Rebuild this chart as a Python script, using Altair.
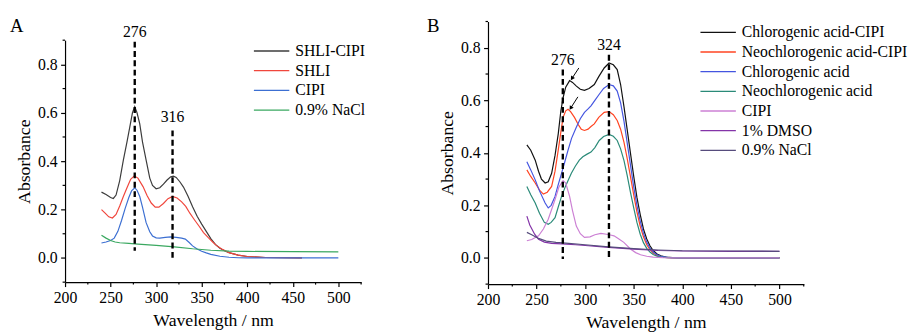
import altair as alt
import pandas as pd

FONT = "Liberation Serif"

# ---------------- Panel A data ----------------
a_names = ["SHLI-CIPI", "SHLI", "CIPI", "0.9% NaCl"]
a_colors = ["#3c3c3c", "#f0463c", "#3c6fd2", "#3aa860"]

a_shli_cipi_nm = [240, 245, 250, 253, 256, 260, 264, 268, 271, 274, 276.5, 279, 282, 285, 289, 293, 296, 300, 304, 308, 312, 316, 319, 322, 326, 330, 335, 340, 345, 350, 355, 360, 365, 370, 375, 380, 390, 400, 420, 440, 460]
a_shli_cipi_v = [0.272, 0.262, 0.250, 0.246, 0.260, 0.320, 0.404, 0.480, 0.540, 0.600, 0.625, 0.600, 0.554, 0.480, 0.404, 0.330, 0.300, 0.286, 0.290, 0.305, 0.322, 0.335, 0.338, 0.333, 0.315, 0.293, 0.255, 0.212, 0.172, 0.140, 0.110, 0.080, 0.056, 0.040, 0.030, 0.022, 0.012, 0.006, 0.002, 0.001, 0.000]

a_shli_nm = [240, 244, 248, 252, 256, 260, 264, 268, 272, 276, 280, 285.6, 290, 294.6, 299, 303, 308, 313, 318, 323, 328, 332.5, 337, 342, 347, 352, 357, 361.5, 366, 372, 380, 390, 400, 420, 440, 460]
a_shli_v = [0.200, 0.185, 0.170, 0.165, 0.180, 0.215, 0.254, 0.290, 0.325, 0.339, 0.330, 0.295, 0.258, 0.227, 0.210, 0.210, 0.225, 0.245, 0.254, 0.248, 0.232, 0.213, 0.185, 0.158, 0.132, 0.105, 0.085, 0.068, 0.052, 0.037, 0.022, 0.012, 0.006, 0.002, 0.001, 0.000]

a_cipi_nm = [240, 245, 250, 254, 258, 262, 266, 270, 273, 276.5, 279, 282, 285, 289, 293, 296, 300, 304, 310, 316, 322, 328, 332, 336, 340, 345, 350, 355, 360, 370, 380, 390, 400, 450, 500]
a_cipi_v = [0.062, 0.066, 0.072, 0.082, 0.110, 0.155, 0.205, 0.250, 0.277, 0.290, 0.280, 0.254, 0.210, 0.146, 0.108, 0.091, 0.083, 0.082, 0.085, 0.087, 0.085, 0.082, 0.078, 0.065, 0.050, 0.037, 0.028, 0.021, 0.015, 0.007, 0.003, 0.001, 0.000, 0.000, 0.000]

a_nacl_nm = [240, 245, 250, 255, 260, 270, 280, 300, 320, 340, 360, 380, 400, 450, 500]
a_nacl_v = [0.094, 0.082, 0.072, 0.066, 0.063, 0.060, 0.057, 0.052, 0.046, 0.038, 0.032, 0.028, 0.027, 0.026, 0.025]

a_peak_nm = [276.5, 318]
a_peak_text = ["276", "316"]
a_peak_label_y = [0.914, 0.56]
a_peak_top = [0.894, 0.527]
a_peak_bottom = [0.03, -0.012]

# ---------------- Panel B data ----------------
b_names = ["Chlorogenic acid-CIPI", "Neochlorogenic acid-CIPI", "Chlorogenic acid",
           "Neochlorogenic acid", "CIPI", "1% DMSO", "0.9% NaCl"]
b_colors = ["#111111", "#ff4422", "#4455e0", "#2a8a78", "#cc80d4", "#8434a8", "#564c7c"]

b_cga_cipi_nm = [240, 244, 248.6, 252, 255, 258.8, 262, 265.5, 269, 272.3, 275, 277.3, 280, 284, 287, 291, 295, 299.3, 304, 309.4, 314, 319.6, 324.6, 329, 333, 336.5, 340, 343.2, 346.6, 350, 353.3, 356.7, 360, 363.4, 366.7, 370, 374, 378, 383, 390, 400, 450, 500]
b_cga_cipi_v = [0.430, 0.410, 0.372, 0.330, 0.300, 0.285, 0.290, 0.322, 0.390, 0.472, 0.560, 0.610, 0.650, 0.675, 0.668, 0.654, 0.642, 0.638, 0.645, 0.660, 0.690, 0.723, 0.742, 0.735, 0.717, 0.660, 0.575, 0.490, 0.400, 0.310, 0.230, 0.165, 0.110, 0.072, 0.046, 0.028, 0.015, 0.008, 0.003, 0.001, 0.000, 0.000, 0.000]

b_ncga_cipi_nm = [240, 244, 248.6, 253, 257, 261, 265.5, 269, 272.3, 275, 277.3, 280, 282.4, 285, 289, 293, 296, 299.3, 303, 306, 309.4, 314, 319.6, 324.6, 329, 333, 336.5, 340, 343.2, 346.6, 350, 353.3, 356.7, 360, 363.4, 366.7, 370, 374, 378, 385, 395, 450, 500]
b_ncga_cipi_v = [0.335, 0.310, 0.285, 0.258, 0.243, 0.250, 0.272, 0.330, 0.410, 0.480, 0.535, 0.560, 0.566, 0.557, 0.535, 0.507, 0.490, 0.485, 0.490, 0.500, 0.510, 0.535, 0.554, 0.557, 0.545, 0.523, 0.490, 0.440, 0.380, 0.310, 0.240, 0.175, 0.120, 0.080, 0.050, 0.031, 0.018, 0.009, 0.004, 0.001, 0.000, 0.000, 0.000]

b_cga_nm = [240, 244, 248.6, 253, 258.8, 262, 265, 269, 272, 275.7, 279, 282.4, 286, 290.9, 295, 299.3, 303, 306, 310, 314.5, 319, 324.6, 329, 333, 336.5, 340, 343.2, 346.6, 350, 353.3, 356.7, 360, 363.4, 366.7, 370, 374, 378, 385, 395, 450, 500]
b_cga_v = [0.366, 0.335, 0.297, 0.255, 0.209, 0.190, 0.200, 0.234, 0.275, 0.322, 0.365, 0.410, 0.455, 0.497, 0.530, 0.554, 0.567, 0.579, 0.600, 0.623, 0.645, 0.660, 0.655, 0.635, 0.590, 0.520, 0.440, 0.355, 0.270, 0.200, 0.140, 0.093, 0.060, 0.037, 0.022, 0.012, 0.006, 0.002, 0.000, 0.000, 0.000]

b_ncga_nm = [240, 244, 248.6, 253, 258, 262, 265, 269, 272, 275.7, 280, 285.8, 290, 294, 297.6, 302, 306, 310, 314.5, 319, 324.6, 329, 333, 336.5, 340, 343.2, 346.6, 350, 353.3, 356.7, 360, 363.4, 366.7, 370, 374, 378, 385, 395, 450, 500]
b_ncga_v = [0.272, 0.240, 0.209, 0.170, 0.135, 0.128, 0.135, 0.153, 0.190, 0.234, 0.275, 0.322, 0.350, 0.372, 0.385, 0.395, 0.403, 0.420, 0.447, 0.462, 0.470, 0.463, 0.447, 0.415, 0.370, 0.315, 0.250, 0.190, 0.135, 0.090, 0.058, 0.036, 0.022, 0.013, 0.006, 0.003, 0.001, 0.000, 0.000, 0.000]

b_cipi_nm = [240, 245, 252, 257, 262, 266, 269, 273, 277.3, 280, 284, 287, 290.9, 295, 299.3, 305, 310, 316.2, 322, 326, 329.7, 334, 339.8, 346.6, 352, 357, 363.4, 370, 380, 390, 450, 500]
b_cipi_v = [0.065, 0.070, 0.084, 0.110, 0.147, 0.190, 0.222, 0.270, 0.294, 0.285, 0.234, 0.180, 0.121, 0.092, 0.078, 0.080, 0.088, 0.093, 0.090, 0.087, 0.084, 0.074, 0.059, 0.034, 0.020, 0.012, 0.006, 0.003, 0.001, 0.000, 0.000, 0.000]

b_dmso_nm = [240, 243, 245.3, 248, 252, 258, 265.5, 276, 290, 300, 324, 350, 375, 400, 450, 500]
b_dmso_v = [0.159, 0.125, 0.109, 0.090, 0.071, 0.060, 0.055, 0.053, 0.050, 0.047, 0.040, 0.033, 0.028, 0.026, 0.025, 0.025]

b_nacl_nm = [240, 245, 252, 260, 270, 280, 300, 324, 350, 375, 400, 450, 500]
b_nacl_v = [0.097, 0.088, 0.074, 0.064, 0.059, 0.056, 0.050, 0.042, 0.035, 0.030, 0.027, 0.026, 0.025]

b_peak_nm = [277, 324.5]
b_peak_text = ["276", "324"]
b_peak_label_y = [0.733, 0.792]
b_peak_top = [0.717, 0.773]
b_peak_bottom = [-0.004, -0.008]

# arrows (start -> end) pointing to the 276 shoulder peaks
b_arrow_x1 = [293.5, 292.5]
b_arrow_y1 = [0.723, 0.613]
b_arrow_x2 = [286.4, 285.1]
b_arrow_y2 = [0.683, 0.570]

# ---------------- axes ----------------
x_major = [200, 250, 300, 350, 400, 450, 500]
x_minor = [225, 275, 325, 375, 425, 475, 525]
y_major = [0.0, 0.2, 0.4, 0.6, 0.8]
y_minor = [-0.1, 0.1, 0.3, 0.5, 0.7, 0.9]


def long_frame(names, pairs):
    rows = []
    for name, (xs, ys) in zip(names, pairs):
        for x, y in zip(xs, ys):
            rows.append({"series": name, "nm": x, "abs": y})
    return pd.DataFrame(rows)


def panel(df, names, colors, peaks, letter, letter_xy, width, height, y_top, legend_xy, arrows=None):
    xs = alt.Scale(domain=[200, 525], nice=False, zero=False)
    ys = alt.Scale(domain=[-0.1, 0.9], nice=False, zero=False, range=[height, y_top])
    lines = alt.Chart(df).mark_line(strokeWidth=1.2).encode(
        x=alt.X("nm:Q", scale=xs, axis=alt.Axis(
            values=x_major, format="d", title="Wavelength / nm", tickSize=4.5,
            labelPadding=3, titlePadding=7, labelOverlap=False, labelFlush=False, grid=False)),
        y=alt.Y("abs:Q", scale=ys, axis=alt.Axis(
            values=y_major, format=".1f", title="Absorbance", tickSize=4.5,
            labelPadding=3.5, titlePadding=4, labelOverlap=False, labelFlush=False, grid=False)),
        color=alt.Color(
            "series:N",
            scale=alt.Scale(domain=names, range=colors),
            sort=names,
            legend=alt.Legend(
                title=None, orient="none", legendX=legend_xy[0], legendY=legend_xy[1],
                symbolType="M-3,0H3", symbolSize=144, symbolStrokeWidth=1.3,
                labelFontSize=16, labelFont=FONT, labelColor="black", labelLimit=400,
                labelOffset=16, rowPadding=4, padding=0,
            ),
        ),
    )
    # minor ticks, placed through the panel's own scales
    xminor = alt.Chart(pd.DataFrame({"v": x_minor})).mark_rule(color="black", strokeWidth=1.2).encode(
        x=alt.X("v:Q", scale=xs), y=alt.value(height), y2=alt.value(height + 2.5)
    )
    yminor = alt.Chart(pd.DataFrame({"v": y_minor})).mark_rule(color="black", strokeWidth=1.2).encode(
        y=alt.Y("v:Q", scale=ys), x=alt.value(-2.5), x2=alt.value(0)
    )
    pk = pd.DataFrame(peaks)
    rules = alt.Chart(pk).mark_rule(color="black", strokeWidth=2.4, strokeDash=[6, 3.5]).encode(
        x="nm:Q", y="top:Q", y2="bottom:Q"
    )
    labels = alt.Chart(pk).mark_text(
        font=FONT, fontSize=16, color="black", align="center", baseline="alphabetic"
    ).encode(x="nm:Q", y="ly:Q", text="txt:N")
    let = alt.Chart(pd.DataFrame({"t": [letter]})).mark_text(
        font=FONT, fontSize=19, color="black", align="left", baseline="alphabetic"
    ).encode(x=alt.value(letter_xy[0]), y=alt.value(letter_xy[1]), text="t:N")
    layers = [lines, xminor, yminor, rules, labels, let]
    if arrows is not None:
        ar = pd.DataFrame(arrows)
        shafts = alt.Chart(ar).mark_rule(color="black", strokeWidth=1).encode(
            x="x1:Q", y="y1:Q", x2="x2:Q", y2="y2:Q"
        )
        heads = alt.Chart(ar).mark_point(
            shape="triangle-up", filled=True, color="black", size=22, angle=213, opacity=1
        ).encode(x="x2:Q", y="y2:Q")
        layers += [shafts, heads]
    return alt.layer(*layers).properties(width=width, height=height)


df_a = long_frame(a_names, [(a_shli_cipi_nm, a_shli_cipi_v), (a_shli_nm, a_shli_v),
                            (a_cipi_nm, a_cipi_v), (a_nacl_nm, a_nacl_v)])
df_b = long_frame(b_names, [(b_cga_cipi_nm, b_cga_cipi_v), (b_ncga_cipi_nm, b_ncga_cipi_v),
                            (b_cga_nm, b_cga_v), (b_ncga_nm, b_ncga_v), (b_cipi_nm, b_cipi_v),
                            (b_dmso_nm, b_dmso_v), (b_nacl_nm, b_nacl_v)])

panel_a = panel(
    df_a, a_names, a_colors,
    {"nm": a_peak_nm, "txt": a_peak_text, "ly": a_peak_label_y, "top": a_peak_top, "bottom": a_peak_bottom},
    "A", (-56, 11), 301, 265, 19, (202, 22),
)
panel_b = panel(
    df_b, b_names, b_colors,
    {"nm": b_peak_nm, "txt": b_peak_text, "ly": b_peak_label_y, "top": b_peak_top, "bottom": b_peak_bottom},
    "B", (-62, 11), 321, 267, 0, (226, 3),
    arrows={"x1": b_arrow_x1, "y1": b_arrow_y1, "x2": b_arrow_x2, "y2": b_arrow_y2},
)

chart = alt.hconcat(panel_a, panel_b, spacing=62).resolve_scale(
    x="independent", y="independent", color="independent"
).properties(
    padding={"left": 2, "top": 7, "right": 0, "bottom": 0}
).configure(
    font=FONT
).configure_axis(
    labelFont=FONT, titleFont=FONT, labelFontSize=16, titleFontSize=18,
    labelColor="black", titleColor="black", titleFontWeight="normal",
    domainColor="black", tickColor="black", domainWidth=1.2, tickWidth=1.2,
).configure_view(
    strokeWidth=0
)

chart.save("out.html", embed_options={"renderer": "svg", "actions": False})
